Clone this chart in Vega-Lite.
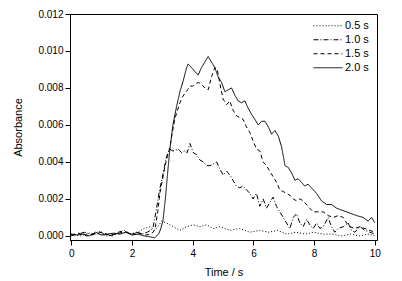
{
"$schema":"https://vega.github.io/schema/vega-lite/v6.json",
"width":307,"height":226,
"autosize":{"type":"none"},
"padding":{"left":70,"top":14,"right":25,"bottom":41},
"background":"white",
"config":{"font":"Liberation Sans","view":{"stroke":"black","strokeWidth":1},
"axis":{"grid":false,"domainColor":"black","tickColor":"black","labelColor":"black","titleColor":"black","labelFont":"Liberation Sans","titleFont":"Liberation Sans","labelFontSize":10,"titleFontSize":11,"titleFontWeight":"normal","tickSize":5}},
"data":{"values":[
{"s":"2.0 s","t":0,"a":0.0001},{"s":"2.0 s","t":0.2,"a":0.00005},{"s":"2.0 s","t":0.4,"a":0.0001},{"s":"2.0 s","t":0.6,"a":0.0},{"s":"2.0 s","t":0.8,"a":0.0002},{"s":"2.0 s","t":1.0,"a":0.00005},{"s":"2.0 s","t":1.2,"a":0.0001},{"s":"2.0 s","t":1.4,"a":0.00015},{"s":"2.0 s","t":1.6,"a":0.0001},{"s":"2.0 s","t":1.8,"a":0.0002},{"s":"2.0 s","t":2.0,"a":0.00005},{"s":"2.0 s","t":2.2,"a":0.0001},{"s":"2.0 s","t":2.4,"a":0.0},{"s":"2.0 s","t":2.6,"a":-0.00005},{"s":"2.0 s","t":2.75,"a":-0.0001},{"s":"2.0 s","t":2.88,"a":0.0001},{"s":"2.0 s","t":2.95,"a":0.0004},{"s":"2.0 s","t":3.02,"a":0.0008},{"s":"2.0 s","t":3.1,"a":0.002},{"s":"2.0 s","t":3.18,"a":0.0035},{"s":"2.0 s","t":3.25,"a":0.0047},{"s":"2.0 s","t":3.35,"a":0.006},{"s":"2.0 s","t":3.47,"a":0.007},{"s":"2.0 s","t":3.58,"a":0.0078},{"s":"2.0 s","t":3.69,"a":0.0084},{"s":"2.0 s","t":3.8,"a":0.0091},{"s":"2.0 s","t":3.85,"a":0.0093},{"s":"2.0 s","t":3.96,"a":0.0091},{"s":"2.0 s","t":4.07,"a":0.0089},{"s":"2.0 s","t":4.18,"a":0.0087},{"s":"2.0 s","t":4.29,"a":0.0091},{"s":"2.0 s","t":4.4,"a":0.0094},{"s":"2.0 s","t":4.51,"a":0.0097},{"s":"2.0 s","t":4.62,"a":0.0094},{"s":"2.0 s","t":4.73,"a":0.0091},{"s":"2.0 s","t":4.84,"a":0.0086},{"s":"2.0 s","t":4.95,"a":0.0083},{"s":"2.0 s","t":5.06,"a":0.0078},{"s":"2.0 s","t":5.17,"a":0.0079},{"s":"2.0 s","t":5.28,"a":0.008},{"s":"2.0 s","t":5.39,"a":0.0076},{"s":"2.0 s","t":5.5,"a":0.0073},{"s":"2.0 s","t":5.61,"a":0.0072},{"s":"2.0 s","t":5.72,"a":0.0073},{"s":"2.0 s","t":5.83,"a":0.0069},{"s":"2.0 s","t":5.93,"a":0.0066},{"s":"2.0 s","t":6.05,"a":0.0063},{"s":"2.0 s","t":6.16,"a":0.006},{"s":"2.0 s","t":6.27,"a":0.0062},{"s":"2.0 s","t":6.38,"a":0.0062},{"s":"2.0 s","t":6.49,"a":0.0059},{"s":"2.0 s","t":6.6,"a":0.0055},{"s":"2.0 s","t":6.71,"a":0.0057},{"s":"2.0 s","t":6.82,"a":0.0054},{"s":"2.0 s","t":6.93,"a":0.0048},{"s":"2.0 s","t":7.04,"a":0.0038},{"s":"2.0 s","t":7.15,"a":0.0037},{"s":"2.0 s","t":7.26,"a":0.0034},{"s":"2.0 s","t":7.37,"a":0.003},{"s":"2.0 s","t":7.47,"a":0.0031},{"s":"2.0 s","t":7.58,"a":0.0029},{"s":"2.0 s","t":7.69,"a":0.0027},{"s":"2.0 s","t":7.8,"a":0.0028},{"s":"2.0 s","t":7.91,"a":0.0026},{"s":"2.0 s","t":8.08,"a":0.0023},{"s":"2.0 s","t":8.24,"a":0.0019},{"s":"2.0 s","t":8.41,"a":0.0017},{"s":"2.0 s","t":8.57,"a":0.0017},{"s":"2.0 s","t":8.74,"a":0.0015},{"s":"2.0 s","t":8.9,"a":0.0014},{"s":"2.0 s","t":9.07,"a":0.0013},{"s":"2.0 s","t":9.23,"a":0.0012},{"s":"2.0 s","t":9.4,"a":0.0011},{"s":"2.0 s","t":9.61,"a":0.001},{"s":"2.0 s","t":9.78,"a":0.0008},{"s":"2.0 s","t":9.89,"a":0.001},{"s":"2.0 s","t":10.0,"a":0.0007},
{"s":"1.5 s","t":0,"a":0.00005},{"s":"1.5 s","t":0.25,"a":0.00015},{"s":"1.5 s","t":0.5,"a":0.0},{"s":"1.5 s","t":0.75,"a":0.0001},{"s":"1.5 s","t":1.0,"a":0.0002},{"s":"1.5 s","t":1.25,"a":0.00005},{"s":"1.5 s","t":1.5,"a":0.0001},{"s":"1.5 s","t":1.75,"a":0.00025},{"s":"1.5 s","t":2.0,"a":0.0001},{"s":"1.5 s","t":2.25,"a":0.00015},{"s":"1.5 s","t":2.45,"a":0.00005},{"s":"1.5 s","t":2.6,"a":0.0001},{"s":"1.5 s","t":2.7,"a":0.0002},{"s":"1.5 s","t":2.76,"a":0.0004},{"s":"1.5 s","t":2.85,"a":0.0013},{"s":"1.5 s","t":2.92,"a":0.0023},{"s":"1.5 s","t":3.0,"a":0.003},{"s":"1.5 s","t":3.09,"a":0.0038},{"s":"1.5 s","t":3.17,"a":0.0043},{"s":"1.5 s","t":3.25,"a":0.0048},{"s":"1.5 s","t":3.33,"a":0.0056},{"s":"1.5 s","t":3.41,"a":0.0063},{"s":"1.5 s","t":3.5,"a":0.0068},{"s":"1.5 s","t":3.58,"a":0.0072},{"s":"1.5 s","t":3.66,"a":0.0075},{"s":"1.5 s","t":3.74,"a":0.0077},{"s":"1.5 s","t":3.83,"a":0.0079},{"s":"1.5 s","t":3.91,"a":0.0081},{"s":"1.5 s","t":4.0,"a":0.0081},{"s":"1.5 s","t":4.07,"a":0.0082},{"s":"1.5 s","t":4.18,"a":0.0083},{"s":"1.5 s","t":4.29,"a":0.0082},{"s":"1.5 s","t":4.4,"a":0.008},{"s":"1.5 s","t":4.51,"a":0.0079},{"s":"1.5 s","t":4.62,"a":0.0086},{"s":"1.5 s","t":4.73,"a":0.0091},{"s":"1.5 s","t":4.81,"a":0.009},{"s":"1.5 s","t":4.9,"a":0.0082},{"s":"1.5 s","t":5.0,"a":0.0074},{"s":"1.5 s","t":5.12,"a":0.0071},{"s":"1.5 s","t":5.22,"a":0.0073},{"s":"1.5 s","t":5.33,"a":0.0068},{"s":"1.5 s","t":5.44,"a":0.0065},{"s":"1.5 s","t":5.55,"a":0.0064},{"s":"1.5 s","t":5.66,"a":0.0063},{"s":"1.5 s","t":5.77,"a":0.0059},{"s":"1.5 s","t":5.88,"a":0.0056},{"s":"1.5 s","t":6.0,"a":0.0051},{"s":"1.5 s","t":6.1,"a":0.0047},{"s":"1.5 s","t":6.21,"a":0.0046},{"s":"1.5 s","t":6.32,"a":0.004},{"s":"1.5 s","t":6.43,"a":0.0038},{"s":"1.5 s","t":6.54,"a":0.0035},{"s":"1.5 s","t":6.65,"a":0.0032},{"s":"1.5 s","t":6.76,"a":0.0029},{"s":"1.5 s","t":6.87,"a":0.0025},{"s":"1.5 s","t":6.98,"a":0.0024},{"s":"1.5 s","t":7.09,"a":0.0023},{"s":"1.5 s","t":7.2,"a":0.0022},{"s":"1.5 s","t":7.31,"a":0.002},{"s":"1.5 s","t":7.42,"a":0.0019},{"s":"1.5 s","t":7.53,"a":0.002},{"s":"1.5 s","t":7.64,"a":0.0019},{"s":"1.5 s","t":7.8,"a":0.0016},{"s":"1.5 s","t":7.97,"a":0.0013},{"s":"1.5 s","t":8.13,"a":0.0013},{"s":"1.5 s","t":8.3,"a":0.0013},{"s":"1.5 s","t":8.46,"a":0.0011},{"s":"1.5 s","t":8.63,"a":0.001},{"s":"1.5 s","t":8.79,"a":0.0011},{"s":"1.5 s","t":8.96,"a":0.001},{"s":"1.5 s","t":9.07,"a":0.0007},{"s":"1.5 s","t":9.18,"a":0.0005},{"s":"1.5 s","t":9.34,"a":0.0004},{"s":"1.5 s","t":9.51,"a":0.0005},{"s":"1.5 s","t":9.67,"a":0.0004},{"s":"1.5 s","t":9.84,"a":0.0003},{"s":"1.5 s","t":10.0,"a":0.0002},
{"s":"1.0 s","t":0,"a":0.0},{"s":"1.0 s","t":0.2,"a":0.0001},{"s":"1.0 s","t":0.45,"a":0.0002},{"s":"1.0 s","t":0.7,"a":0.00005},{"s":"1.0 s","t":0.9,"a":0.00025},{"s":"1.0 s","t":1.1,"a":0.0001},{"s":"1.0 s","t":1.35,"a":0.0},{"s":"1.0 s","t":1.55,"a":0.0002},{"s":"1.0 s","t":1.75,"a":0.0003},{"s":"1.0 s","t":1.95,"a":0.0001},{"s":"1.0 s","t":2.15,"a":0.0002},{"s":"1.0 s","t":2.35,"a":0.0001},{"s":"1.0 s","t":2.5,"a":0.0002},{"s":"1.0 s","t":2.62,"a":0.0003},{"s":"1.0 s","t":2.7,"a":0.0005},{"s":"1.0 s","t":2.78,"a":0.0012},{"s":"1.0 s","t":2.87,"a":0.0021},{"s":"1.0 s","t":2.95,"a":0.0028},{"s":"1.0 s","t":3.03,"a":0.0034},{"s":"1.0 s","t":3.14,"a":0.0043},{"s":"1.0 s","t":3.25,"a":0.0047},{"s":"1.0 s","t":3.33,"a":0.0046},{"s":"1.0 s","t":3.41,"a":0.0046},{"s":"1.0 s","t":3.52,"a":0.0047},{"s":"1.0 s","t":3.64,"a":0.0045},{"s":"1.0 s","t":3.74,"a":0.0046},{"s":"1.0 s","t":3.82,"a":0.0045},{"s":"1.0 s","t":3.91,"a":0.005},{"s":"1.0 s","t":4.02,"a":0.0045},{"s":"1.0 s","t":4.13,"a":0.0044},{"s":"1.0 s","t":4.24,"a":0.0041},{"s":"1.0 s","t":4.35,"a":0.004},{"s":"1.0 s","t":4.46,"a":0.0038},{"s":"1.0 s","t":4.57,"a":0.0038},{"s":"1.0 s","t":4.68,"a":0.0039},{"s":"1.0 s","t":4.79,"a":0.004},{"s":"1.0 s","t":4.9,"a":0.0036},{"s":"1.0 s","t":5.0,"a":0.0033},{"s":"1.0 s","t":5.12,"a":0.0035},{"s":"1.0 s","t":5.22,"a":0.0033},{"s":"1.0 s","t":5.33,"a":0.003},{"s":"1.0 s","t":5.44,"a":0.0027},{"s":"1.0 s","t":5.55,"a":0.0026},{"s":"1.0 s","t":5.66,"a":0.0027},{"s":"1.0 s","t":5.77,"a":0.0025},{"s":"1.0 s","t":5.88,"a":0.0023},{"s":"1.0 s","t":5.99,"a":0.002},{"s":"1.0 s","t":6.1,"a":0.0023},{"s":"1.0 s","t":6.21,"a":0.0016},{"s":"1.0 s","t":6.32,"a":0.002},{"s":"1.0 s","t":6.43,"a":0.0015},{"s":"1.0 s","t":6.54,"a":0.0018},{"s":"1.0 s","t":6.65,"a":0.0021},{"s":"1.0 s","t":6.76,"a":0.0016},{"s":"1.0 s","t":6.87,"a":0.0013},{"s":"1.0 s","t":6.98,"a":0.001},{"s":"1.0 s","t":7.09,"a":0.0007},{"s":"1.0 s","t":7.2,"a":0.0004},{"s":"1.0 s","t":7.31,"a":0.001},{"s":"1.0 s","t":7.42,"a":0.0012},{"s":"1.0 s","t":7.53,"a":0.0007},{"s":"1.0 s","t":7.64,"a":0.0005},{"s":"1.0 s","t":7.75,"a":0.0009},{"s":"1.0 s","t":7.86,"a":0.0006},{"s":"1.0 s","t":7.97,"a":0.0004},{"s":"1.0 s","t":8.08,"a":0.0007},{"s":"1.0 s","t":8.19,"a":0.0004},{"s":"1.0 s","t":8.3,"a":0.0005},{"s":"1.0 s","t":8.46,"a":0.001},{"s":"1.0 s","t":8.57,"a":0.0005},{"s":"1.0 s","t":8.68,"a":0.0002},{"s":"1.0 s","t":8.79,"a":0.0004},{"s":"1.0 s","t":8.96,"a":0.0005},{"s":"1.0 s","t":9.12,"a":0.0007},{"s":"1.0 s","t":9.23,"a":0.0003},{"s":"1.0 s","t":9.34,"a":0.0002},{"s":"1.0 s","t":9.51,"a":0.0005},{"s":"1.0 s","t":9.67,"a":0.0003},{"s":"1.0 s","t":9.84,"a":0.0002},{"s":"1.0 s","t":10.0,"a":0.0001},
{"s":"0.5 s","t":0,"a":0.0001},{"s":"0.5 s","t":0.3,"a":0.0},{"s":"0.5 s","t":0.6,"a":0.00015},{"s":"0.5 s","t":0.9,"a":0.0001},{"s":"0.5 s","t":1.2,"a":0.0},{"s":"0.5 s","t":1.5,"a":0.0001},{"s":"0.5 s","t":1.8,"a":0.0002},{"s":"0.5 s","t":2.0,"a":0.0001},{"s":"0.5 s","t":2.2,"a":0.0002},{"s":"0.5 s","t":2.4,"a":0.0004},{"s":"0.5 s","t":2.6,"a":0.0005},{"s":"0.5 s","t":2.75,"a":0.0003},{"s":"0.5 s","t":2.85,"a":0.0005},{"s":"0.5 s","t":2.98,"a":0.0008},{"s":"0.5 s","t":3.14,"a":0.0007},{"s":"0.5 s","t":3.36,"a":0.0005},{"s":"0.5 s","t":3.58,"a":0.0003},{"s":"0.5 s","t":3.8,"a":0.0005},{"s":"0.5 s","t":4.02,"a":0.0006},{"s":"0.5 s","t":4.24,"a":0.0005},{"s":"0.5 s","t":4.46,"a":0.0006},{"s":"0.5 s","t":4.68,"a":0.0004},{"s":"0.5 s","t":4.9,"a":0.0005},{"s":"0.5 s","t":5.22,"a":0.0003},{"s":"0.5 s","t":5.55,"a":0.0004},{"s":"0.5 s","t":5.88,"a":0.0002},{"s":"0.5 s","t":6.2,"a":0.0003},{"s":"0.5 s","t":6.5,"a":0.0002},{"s":"0.5 s","t":6.8,"a":0.0003},{"s":"0.5 s","t":7.1,"a":0.0001},{"s":"0.5 s","t":7.4,"a":0.0002},{"s":"0.5 s","t":7.7,"a":0.0001},{"s":"0.5 s","t":8.0,"a":0.0002},{"s":"0.5 s","t":8.3,"a":0.0001},{"s":"0.5 s","t":8.6,"a":0.0001},{"s":"0.5 s","t":8.9,"a":0.0},{"s":"0.5 s","t":9.2,"a":0.0001},{"s":"0.5 s","t":9.5,"a":0.0},{"s":"0.5 s","t":9.8,"a":0.0001},{"s":"0.5 s","t":10.0,"a":0.0}
]},
"mark":{"type":"line","color":"black","strokeWidth":1,"clip":true},
"encoding":{
"x":{"field":"t","type":"quantitative","scale":{"domain":[-0.04,10.07],"nice":false,"zero":false},
 "axis":{"title":"Time / s","values":[0,2,4,6,8,10],"format":"d","labelPadding":3,"titlePadding":8}},
"y":{"field":"a","type":"quantitative","scale":{"domain":[-0.00022,0.012],"nice":false,"zero":false},
 "axis":{"title":"Absorbance","values":[0,0.002,0.004,0.006,0.008,0.01,0.012],"format":".3f","labelPadding":2,"titlePadding":14}},
"strokeDash":{"field":"s","type":"nominal",
 "scale":{"domain":["0.5 s","1.0 s","1.5 s","2.0 s"],"range":[[1,2],[5,2,1,2],[4,3],[1,0]]},
 "legend":{"title":null,"orient":"none","legendX":243,"legendY":5,"symbolType":"stroke","symbolSize":841,"symbolStrokeWidth":1,"symbolStrokeColor":"black","labelFontSize":11,"labelColor":"black","labelOffset":2,"clipHeight":13.5,"rowPadding":0,"symbolLimit":0}}
}
}
